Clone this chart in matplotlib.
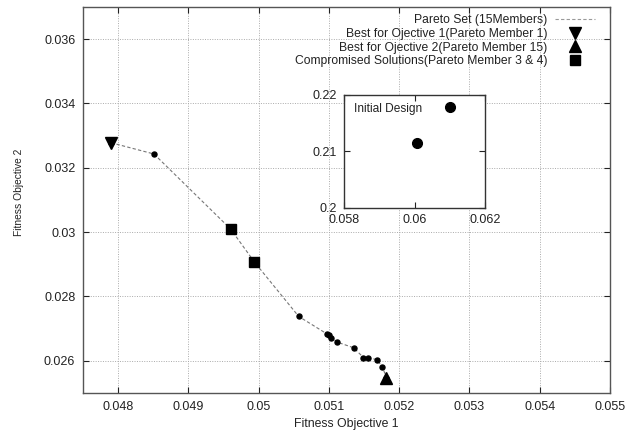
import matplotlib
matplotlib.use("Agg")
import matplotlib.pyplot as plt
from matplotlib.ticker import FormatStrFormatter, MultipleLocator

plt.rcParams['font.family'] = ['Liberation Sans', 'DejaVu Sans']

# Pareto set (15 members), objective 1 vs objective 2
obj1 = [0.04790, 0.04851, 0.04960, 0.04994, 0.05057, 0.050969, 0.050997, 0.051036,
        0.051121, 0.051353, 0.051491, 0.051562, 0.051680, 0.051760, 0.051818]
obj2 = [0.03278, 0.03243, 0.03010, 0.02907, 0.02738, 0.026841, 0.026788, 0.026717,
        0.026579, 0.026405, 0.026102, 0.026093, 0.026040, 0.025822, 0.025470]

best1_idx = [0]
best2_idx = [14]
comp_idx = [2, 3]

# Initial design (inset)
init_x = [0.06005, 0.06100]
init_y = [0.2115, 0.2179]

legend_labels = ["Pareto Set (15Members)",
                 "Best for Ojective 1(Pareto Member 1)",
                 "Best for Ojective 2(Pareto Member 15)",
                 "Compromised Solutions(Pareto Member 3 & 4)"]

txt = '#222222'
spine = '#555555'

fig = plt.figure(figsize=(6.37, 4.32), dpi=100)
ax = fig.add_axes([0.1303, 0.0903, 0.8273, 0.8935])

ax.plot(obj1, obj2, linestyle=(0, (3, 2)), color='#777777', linewidth=0.8,
        label=legend_labels[0], zorder=2)
ax.plot(obj1, obj2, linestyle='none', marker='o', markersize=3.6, color='black', zorder=3)
ax.plot([obj1[i] for i in best1_idx], [obj2[i] for i in best1_idx], linestyle='none',
        marker='v', markersize=8.5, color='black', label=legend_labels[1], zorder=4)
ax.plot([obj1[i] for i in best2_idx], [obj2[i] for i in best2_idx], linestyle='none',
        marker='^', markersize=8.5, color='black', label=legend_labels[2], zorder=4)
ax.plot([obj1[i] for i in comp_idx], [obj2[i] for i in comp_idx], linestyle='none',
        marker='s', markersize=7.5, color='black', label=legend_labels[3], zorder=4)

ax.set_xlim(0.0475, 0.055)
ax.set_ylim(0.025, 0.037)
ax.xaxis.set_major_locator(MultipleLocator(0.001))
ax.yaxis.set_major_locator(MultipleLocator(0.002))
ax.xaxis.set_major_formatter(FormatStrFormatter('%g'))
ax.yaxis.set_major_formatter(FormatStrFormatter('%g'))
ax.grid(True, linestyle=(0, (1, 1.5)), color='#aaaaaa', linewidth=0.7)
ax.tick_params(direction='in', top=True, right=True, length=4, width=0.8,
               labelsize=9, colors=txt)
ax.tick_params(axis='x', pad=5.5)
ax.tick_params(axis='y', pad=5.5)
for s in ax.spines.values():
    s.set_color(spine)
    s.set_linewidth(1.0)
ax.set_xlabel("Fitness Objective 1", fontsize=8.8, color=txt, labelpad=4)
ax.set_ylabel("Fitness Objective 2", fontsize=7.4, color=txt)
ax.yaxis.set_label_coords(-0.112, 0.52)

leg = ax.legend(loc='upper right', bbox_to_anchor=(0.9715, 0.982), markerfirst=False,
                frameon=False, fontsize=8.7, handlelength=3.3, handletextpad=0.66,
                labelspacing=0.15, borderaxespad=0, borderpad=0, labelcolor=txt)
leg.get_lines()[0].set_color('#999999')

ins = fig.add_axes([0.5405, 0.5192, 0.2214, 0.2609])
ins.plot(init_x, init_y, linestyle='none', marker='o', markersize=7, color='black')
ins.set_xlim(0.058, 0.062)
ins.set_ylim(0.2, 0.22)
ins.xaxis.set_major_locator(MultipleLocator(0.002))
ins.yaxis.set_major_locator(MultipleLocator(0.01))
ins.xaxis.set_major_formatter(FormatStrFormatter('%g'))
ins.yaxis.set_major_formatter(FormatStrFormatter('%g'))
ins.tick_params(direction='in', top=True, right=True, length=4, width=0.8,
                labelsize=9, colors=txt)
ins.tick_params(axis='x', pad=4.5)
ins.tick_params(axis='y', pad=5)
for s in ins.spines.values():
    s.set_color('#333333')
    s.set_linewidth(1.0)
ins.text(0.07, 0.88, "Initial Design", transform=ins.transAxes, fontsize=8.6,
         color=txt, va='center', ha='left')

fig.savefig("out.png", dpi=100)
